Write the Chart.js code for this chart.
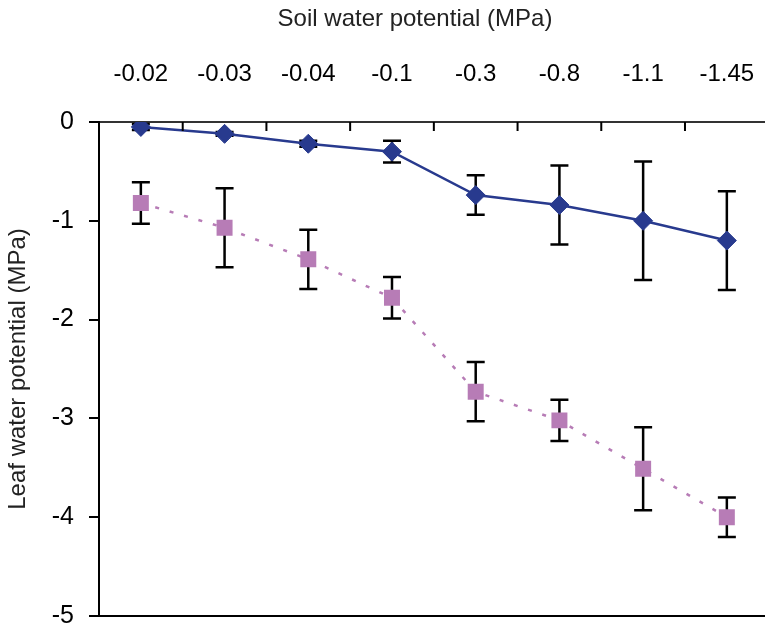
<!DOCTYPE html>
<html>
<head>
<meta charset="utf-8">
<script src="https://cdn.jsdelivr.net/npm/chart.js@4.4.1/dist/chart.umd.min.js"></script>
<style>
  html, body { margin: 0; padding: 0; background: #fff; overflow: hidden; }
  #wrap { width: 780px; height: 628px; }
</style>
</head>
<body>
<div id="wrap"><canvas id="c" width="780" height="628"></canvas></div>
<script>
// Soil water potential steps (MPa), shown along the top axis
const soilPotential = ['-0.02', '-0.03', '-0.04', '-0.1', '-0.3', '-0.8', '-1.1', '-1.45'];

// Leaf water potential (MPa), upper series and its error half-widths
const leafUpper = [-0.05, -0.12, -0.22, -0.30, -0.74, -0.84, -1.00, -1.20];
const leafUpperErr = [0.03, 0.02, 0.03, 0.11, 0.20, 0.40, 0.60, 0.50];

// Leaf water potential (MPa), lower series and its error half-widths
const leafLower = [-0.82, -1.07, -1.39, -1.78, -2.73, -3.02, -3.51, -4.00];
const leafLowerErr = [0.21, 0.40, 0.30, 0.21, 0.30, 0.21, 0.42, 0.20];

// Leaf water potential axis ticks
const yTicks = [0, -1, -2, -3, -4, -5];

const FONT = '"Liberation Sans", Arial, sans-serif';
const BLUE = '#283a8e';
const PINK = '#b77cb6';

// Vertical error bars with caps, drawn under the markers
const errorBars = {
  id: 'errorBars',
  beforeDatasetsDraw(chart) {
    const { ctx, scales: { x, y } } = chart;
    ctx.save();
    ctx.strokeStyle = '#000';
    ctx.lineWidth = 2.5;
    chart.data.datasets.forEach(ds => {
      ds.data.forEach((v, i) => {
        const e = ds.errors[i];
        const px = x.getPixelForValue(i);
        const top = y.getPixelForValue(v + e);
        const bot = y.getPixelForValue(v - e);
        ctx.beginPath();
        ctx.moveTo(px, top); ctx.lineTo(px, bot);
        ctx.moveTo(px - 9, top); ctx.lineTo(px + 9, top);
        ctx.moveTo(px - 9, bot); ctx.lineTo(px + 9, bot);
        ctx.stroke();
      });
    });
    ctx.restore();
  }
};

// Frame details: bottom rule, inward ticks between categories, axis heading
const frame = {
  id: 'frame',
  afterDraw(chart) {
    const { ctx, chartArea: a, scales: { x } } = chart;
    ctx.save();
    ctx.strokeStyle = '#000';
    ctx.lineWidth = 2;
    ctx.beginPath();
    ctx.moveTo(a.left - 1, a.bottom);
    ctx.lineTo(a.right, a.bottom);
    for (let i = 0; i < soilPotential.length - 1; i++) {
      const px = (x.getPixelForValue(i) + x.getPixelForValue(i + 1)) / 2;
      ctx.moveTo(px, a.top);
      ctx.lineTo(px, a.top + 9);
    }
    ctx.stroke();

    ctx.fillStyle = '#222';
    ctx.font = '24px ' + FONT;
    ctx.textAlign = 'center';
    ctx.textBaseline = 'middle';
    ctx.fillText('Soil water potential (MPa)', 415, 19);
    ctx.restore();
  }
};

new Chart(document.getElementById('c'), {
  type: 'line',
  data: {
    labels: soilPotential,
    datasets: [
      {
        data: leafUpper,
        errors: leafUpperErr,
        borderColor: BLUE,
        backgroundColor: BLUE,
        borderWidth: 2.5,
        pointStyle: 'rectRot',
        pointRadius: 9.5,
        pointBackgroundColor: BLUE,
        pointBorderColor: BLUE,
        pointBorderWidth: 1,
        tension: 0
      },
      {
        data: leafLower,
        errors: leafLowerErr,
        borderColor: PINK,
        backgroundColor: PINK,
        borderWidth: 2.5,
        borderDash: [4, 11],
        pointStyle: 'rect',
        pointRadius: 11.3,
        pointBackgroundColor: PINK,
        pointBorderColor: PINK,
        pointBorderWidth: 0,
        tension: 0
      }
    ]
  },
  options: {
    responsive: false,
    animation: false,
    devicePixelRatio: 1,
    layout: { padding: { left: 0, right: 7, top: 0, bottom: 12 } },
    plugins: {
      legend: { display: false },
      tooltip: { enabled: false },
      title: { display: false }
    },
    scales: {
      x: {
        type: 'category',
        position: 'top',
        offset: true,
        afterFit(s) { s.height = 122; s.paddingLeft = 0; s.paddingRight = 0; },
        ticks: {
          color: '#000',
          font: { family: FONT, size: 24 },
          padding: 33,
          maxRotation: 0,
          autoSkip: false
        },
        grid: { display: false, drawTicks: false },
        border: { display: true, color: '#333', width: 2 }
      },
      y: {
        min: -5,
        max: 0,
        position: 'left',
        afterFit(s) { s.width = 99; s.paddingTop = 0; s.paddingBottom = 0; },
        afterBuildTicks(s) { s.ticks = yTicks.map(v => ({ value: v })); },
        ticks: {
          color: '#000',
          font: { family: FONT, size: 25 },
          padding: 15
        },
        grid: {
          drawOnChartArea: false,
          drawTicks: true,
          tickLength: 10,
          color: '#000',
          lineWidth: 2
        },
        border: { display: true, color: '#000', width: 2 },
        title: {
          display: true,
          text: 'Leaf water potential (MPa)',
          color: '#222',
          font: { family: FONT, size: 24 },
          padding: { top: 4, bottom: 0 }
        }
      }
    }
  },
  plugins: [errorBars, frame]
});
</script>
</body>
</html>
